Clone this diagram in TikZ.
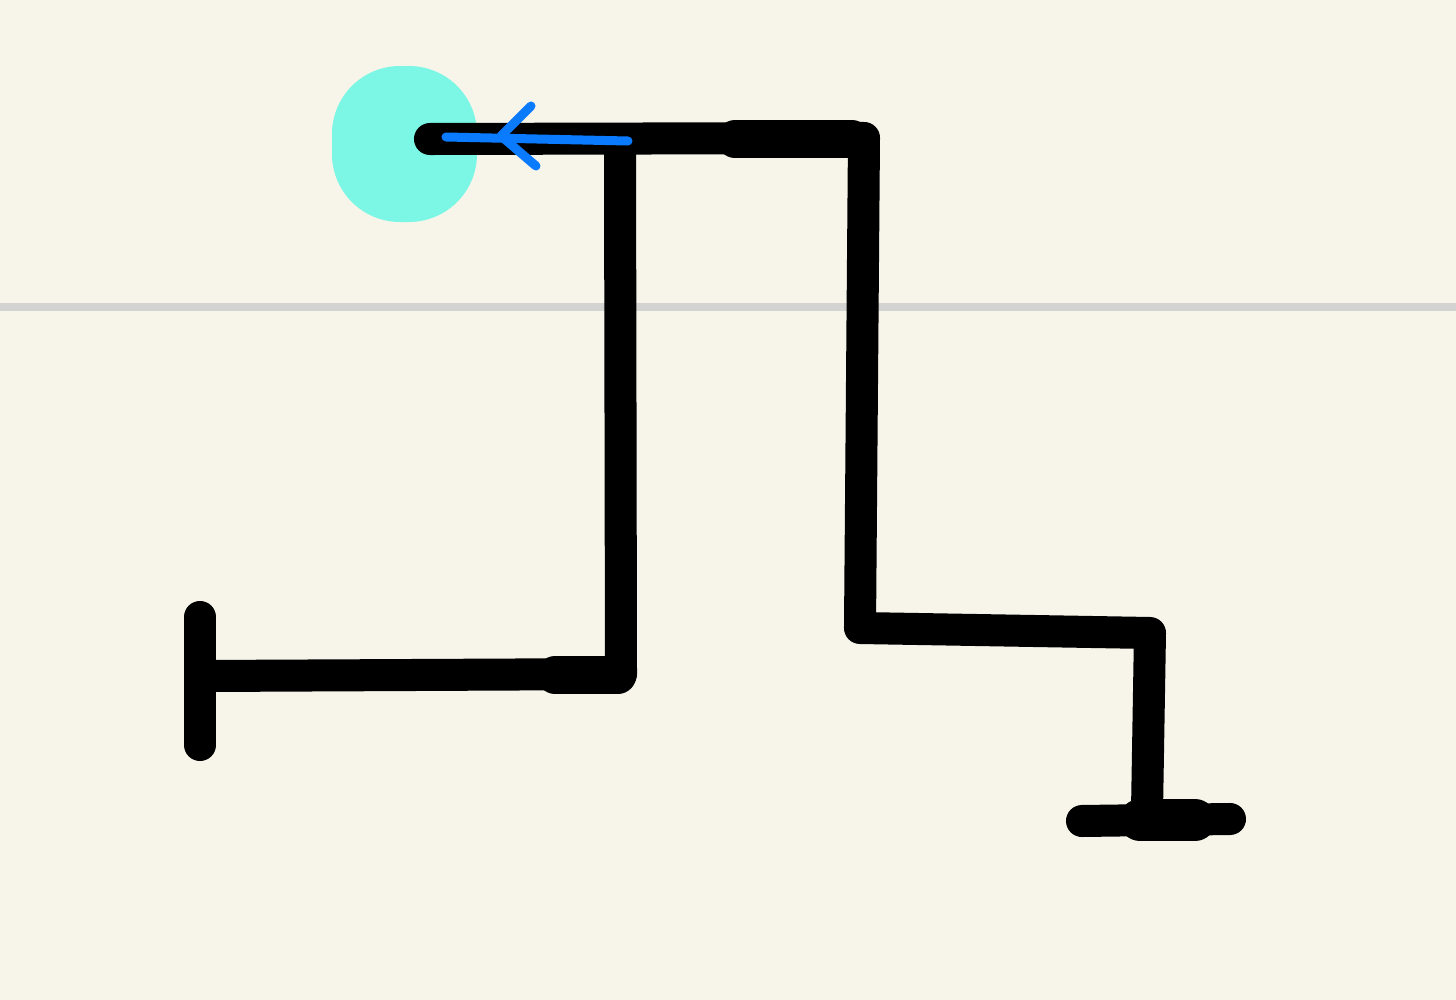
\documentclass[tikz,border=0pt]{standalone}
\usetikzlibrary{calc}
\definecolor{paper}{RGB}{247,245,233}
\definecolor{ruleGray}{RGB}{211,211,209}
\definecolor{headCyan}{RGB}{124,247,230}
\definecolor{penBlue}{RGB}{10,122,255}

\begin{document}
\begin{tikzpicture}[x=0.01cm, y=-0.01cm,
    limb/.style={line width=0.32cm, line cap=round, line join=round},
    fat/.style={line width=0.37cm, line cap=round},
    pen/.style={penBlue, line width=0.09cm, line cap=round, line join=round},
]
\useasboundingbox (0,0) rectangle (1456,1000);
% Paper and ruling
\fill[paper] (-10,-10) rectangle (1466,1010);
\draw[ruleGray, line width=0.07cm] (-10,307) -- (1466,307);

% Head
\fill[headCyan, rounded corners=0.68cm] (332,66) rectangle (477,222);

% Joints
\coordinate (hand) at (430,139);
\coordinate (shoulder) at (864,138);
\coordinate (hip) at (860,628);
\coordinate (knee) at (1150,633);
\coordinate (ankle) at (1147,812);
\coordinate (neck) at (620,142);
\coordinate (seat) at (621,674);
\coordinate (heel) at (206,676);

% Body strokes
\draw[limb] (hand) -- (shoulder) -- (hip) -- (knee) -- (ankle);
\draw[limb] (neck) -- (seat) -- (heel);
\draw[fat] (735,139) -- (852,139);
\draw[fat] (555,675) -- (618,675);

% Feet
\draw[limb] (200,617) -- (200,745);
\draw[limb] (1082,821) -- (1230,819);
\draw[fat, line width=0.42cm] (1140,820) -- (1195,820);

% Arrow
\draw[pen] (446,137) -- (628,141);
\draw[pen] (531,106) -- (501,136) -- (536,166);
\end{tikzpicture}
\end{document}
